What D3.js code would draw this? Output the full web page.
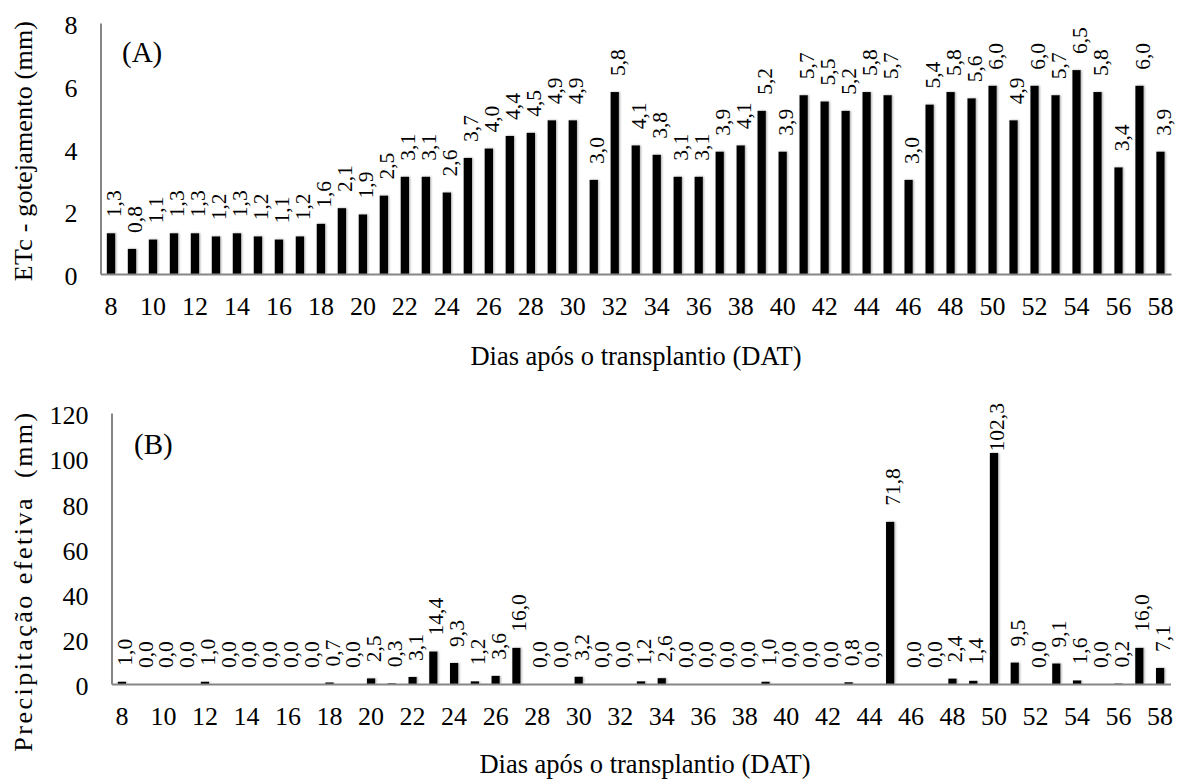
<!DOCTYPE html>
<html>
<head>
<meta charset="utf-8">
<script src="https://cdn.jsdelivr.net/npm/d3@7"></script>
<style>
  body { margin: 0; background: #fff; }
  svg text { font-family: "Liberation Serif", Tinos, "Times New Roman", "DejaVu Serif", serif; fill: #000; }
</style>
</head>
<body>
<svg id="chart" width="1184" height="780"></svg>
<script>
// dias apos o transplantio
var days = [8, 9, 10, 11, 12, 13, 14, 15, 16, 17, 18, 19, 20, 21, 22, 23, 24, 25, 26, 27, 28, 29, 30,
            31, 32, 33, 34, 35, 36, 37, 38, 39, 40, 41, 42, 43, 44, 45, 46, 47, 48, 49, 50, 51, 52, 53,
            54, 55, 56, 57, 58];
var tickDays = [8, 10, 12, 14, 16, 18, 20, 22, 24, 26, 28, 30, 32, 34, 36, 38, 40, 42, 44, 46, 48, 50, 52, 54, 56, 58];

// (A) ETc - gotejamento (mm)
var etcGotejamento = [1.3, 0.8, 1.1, 1.3, 1.3, 1.2, 1.3, 1.2, 1.1, 1.2, 1.6, 2.1, 1.9, 2.5, 3.1, 3.1, 2.6,
                      3.7, 4.0, 4.4, 4.5, 4.9, 4.9, 3.0, 5.8, 4.1, 3.8, 3.1, 3.1, 3.9, 4.1, 5.2, 3.9, 5.7,
                      5.5, 5.2, 5.8, 5.7, 3.0, 5.4, 5.8, 5.6, 6.0, 4.9, 6.0, 5.7, 6.5, 5.8, 3.4, 6.0, 3.9];

// (B) Precipitacao efetiva (mm)
var precipEfetiva = [1.0, 0.0, 0.0, 0.0, 1.0, 0.0, 0.0, 0.0, 0.0, 0.0, 0.7, 0.0, 2.5, 0.3, 3.1, 14.4, 9.3,
                     1.2, 3.6, 16.0, 0.0, 0.0, 3.2, 0.0, 0.0, 1.2, 2.6, 0.0, 0.0, 0.0, 0.0, 1.0, 0.0, 0.0,
                     0.0, 0.8, 0.0, 71.8, 0.0, 0.0, 2.4, 1.4, 102.3, 9.5, 0.0, 9.1, 1.6, 0.0, 0.2, 16.0, 7.1];

var yTicksA = [0, 2, 4, 6, 8];
var yTicksB = [0, 20, 40, 60, 80, 100, 120];

var FONT = '"Liberation Serif", Tinos, "Times New Roman", "DejaVu Serif", serif';
var fmt = d3.formatLocale({decimal: ",", thousands: ".", grouping: [3], currency: ["", ""]}).format(".1f");

var svg = d3.select("#chart");

var filter = svg.append("defs").append("filter")
    .attr("id", "shadow")
    .attr("x", "-50%").attr("y", "-10%")
    .attr("width", "200%").attr("height", "120%");
filter.append("feDropShadow")
    .attr("dx", 1).attr("dy", 0)
    .attr("stdDeviation", 1.2)
    .attr("flood-color", "#888")
    .attr("flood-opacity", 0.7);

function drawPanel(p) {
  var data = days.map(function(d, i) { return {day: d, value: p.values[i]}; });

  var x = d3.scaleBand()
      .domain(days)
      .range([p.left, p.right])
      .paddingInner(0.6)
      .paddingOuter(0.3);

  var y = d3.scaleLinear()
      .domain([0, p.yMax])
      .range([p.bottom, p.top]);

  var g = svg.append("g").attr("font-family", FONT);

  g.selectAll(".bar")
      .data(data)
    .enter().append("rect")
      .attr("class", "bar")
      .attr("x", function(d) { return x(d.day); })
      .attr("width", x.bandwidth())
      .attr("y", function(d) { return y(d.value); })
      .attr("height", function(d) { return p.bottom - y(d.value); })
      .attr("fill", "#000")
      .attr("filter", "url(#shadow)");

  // axes
  var xAxis = g.append("g")
      .attr("transform", "translate(0," + p.bottom + ")")
      .call(d3.axisBottom(x).tickValues(tickDays).tickSize(0).tickSizeOuter(0).tickPadding(22.5));

  var yAxis = g.append("g")
      .attr("transform", "translate(" + p.left + ",0)")
      .call(d3.axisLeft(y).tickValues(p.yTicks).tickSize(0).tickSizeOuter(0).tickPadding(23));

  [xAxis, yAxis].forEach(function(a) {
    a.attr("font-family", FONT).attr("font-size", 26);
    a.select(".domain").attr("stroke", "#868686").attr("stroke-width", 2);
    a.selectAll("text").attr("fill", "#000");
  });
  yAxis.selectAll("text").attr("dy", "0.41em");

  // data labels, rotated
  g.selectAll(".lbl")
      .data(data)
    .enter().append("text")
      .attr("class", "lbl")
      .attr("font-size", 21.5)
      .attr("text-anchor", "start")
      .text(function(d) { return fmt(d.value); })
      .attr("transform", function(d) {
        var len = this.getComputedTextLength();
        var cx = x(d.day) + x.bandwidth() / 2 + 10;
        var ly = Math.max(y(d.value) - 16, p.top - 10 + len);
        return "translate(" + cx + "," + ly + ") rotate(-90)";
      });

  // panel letter
  g.append("text")
      .attr("x", p.letterX)
      .attr("y", p.letterY)
      .attr("font-size", 29)
      .text(p.letter);

  // y title
  g.append("text")
      .attr("transform", "translate(" + p.yTitleX + "," + p.yTitleY + ") rotate(-90)")
      .attr("text-anchor", "middle")
      .attr("font-size", 26)
      .style("white-space", "pre")
      .attr("letter-spacing", p.yTitleSpacing)
      .text(p.yTitle);

  // x title
  g.append("text")
      .attr("x", p.xTitleX)
      .attr("y", p.xTitleY)
      .attr("text-anchor", "middle")
      .attr("font-size", 26.5)
      .text("Dias após o transplantio (DAT)");
}

drawPanel({
  values: etcGotejamento,
  left: 100.5, right: 1171, top: 23, bottom: 274,
  yMax: 8, yTicks: yTicksA,
  letter: "(A)", letterX: 122, letterY: 62,
  yTitle: "ETc - gotejamento (mm)", yTitleX: 32, yTitleY: 151, yTitleSpacing: 0.2,
  xTitleX: 636, xTitleY: 365
});

drawPanel({
  values: precipEfetiva,
  left: 111.5, right: 1170.5, top: 413, bottom: 684,
  yMax: 120, yTicks: yTicksB,
  letter: "(B)", letterX: 134, letterY: 454,
  yTitle: "Precipitação efetiva  (mm)", yTitleX: 32, yTitleY: 581, yTitleSpacing: 2.5,
  xTitleX: 645, xTitleY: 773
});
</script>
</body>
</html>
